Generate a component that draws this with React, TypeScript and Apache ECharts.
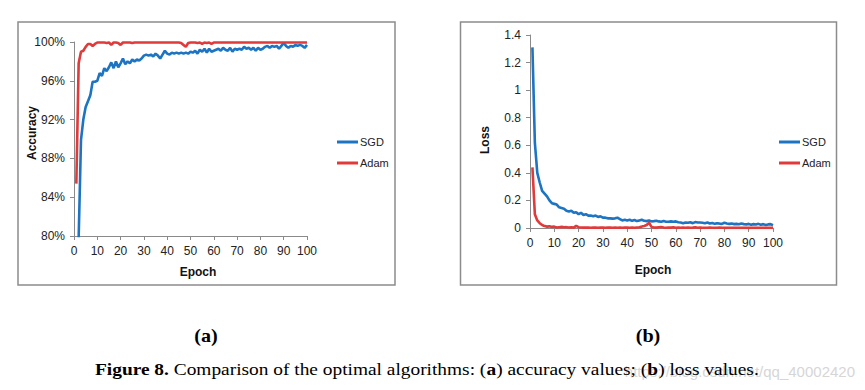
import React, { useEffect, useRef } from "react";
import * as echarts from "echarts";

const epochs: number[] = Array.from({ length: 100 }, (_, i) => i + 1);

const accXTicks = { min: 0, max: 100, interval: 10 };
const accYTicks = { min: 80, max: 100, interval: 4 };
const lossYTicks = { min: 0, max: 1.4, interval: 0.2 };

const sgdAccuracy: number[] = [
  62, 79.8, 89.9, 92.0, 93.3, 93.9, 94.5, 95.9, 95.9, 96.0,
  96.8, 96.5, 97.3, 97.0, 97.4, 97.9, 97.3, 98.0, 97.4, 97.8,
  98.3, 97.7, 98.0, 97.8, 98.2, 98.0, 98.2, 98.1, 98.3, 98.6,
  98.7, 98.6, 98.7, 98.5, 98.8, 98.6, 98.3, 98.7, 99.1, 98.8,
  98.7, 98.9, 98.8, 98.9, 98.8, 98.9, 98.8, 98.9, 98.8, 99.0,
  98.9, 99.1, 98.8, 99.2, 99.0, 99.3, 98.9, 99.3, 99.0, 99.1,
  99.2, 99.3, 99.1, 99.4, 99.2, 99.1, 99.4, 99.0, 99.3, 99.2,
  99.3, 99.2, 99.5, 99.3, 99.4, 99.2, 99.4, 99.1, 99.4, 99.2,
  99.3, 99.5, 99.6, 99.4, 99.6, 99.5, 99.6, 99.3, 99.6, 99.9,
  99.6, 99.4, 99.6, 99.5, 99.7, 99.6, 99.7, 99.6, 99.4, 99.7,
];

const adamAccuracy: number[] = [
  85.4, 97.8, 99.0, 99.1, 99.5, 99.8, 99.8, 99.6, 99.8, 99.95,
  99.95, 99.95, 99.95, 99.9, 99.95, 99.7, 99.95, 99.95, 99.9, 99.7,
  99.95, 99.95, 99.95, 99.95, 99.9, 99.95, 99.95, 99.95, 99.95, 99.95,
  99.95, 99.95, 99.95, 99.95, 99.95, 99.95, 99.95, 99.95, 99.95, 99.95,
  99.95, 99.95, 99.95, 99.95, 99.95, 99.9, 99.7, 99.5, 99.9, 99.95,
  99.95, 99.95, 99.9, 99.95, 99.8, 99.95, 99.9, 99.95, 99.8, 99.95,
  99.95, 99.95, 99.95, 99.95, 99.95, 99.95, 99.95, 99.95, 99.95, 99.95,
  99.95, 99.95, 99.95, 99.95, 99.95, 99.95, 99.95, 99.95, 99.95, 99.95,
  99.95, 99.95, 99.95, 99.95, 99.95, 99.95, 99.95, 99.95, 99.95, 99.95,
  99.95, 99.95, 99.95, 99.95, 99.95, 99.95, 99.95, 99.95, 99.95, 99.95,
];

const sgdLoss: number[] = [
  1.31, 0.62, 0.40, 0.33, 0.27, 0.25, 0.23, 0.20, 0.18, 0.175,
  0.17, 0.15, 0.145, 0.14, 0.125, 0.12, 0.125, 0.11, 0.115, 0.10,
  0.11, 0.095, 0.10, 0.09, 0.09, 0.085, 0.09, 0.08, 0.085, 0.075,
  0.075, 0.07, 0.07, 0.068, 0.07, 0.075, 0.065, 0.055, 0.06, 0.055,
  0.06, 0.052, 0.058, 0.05, 0.055, 0.06, 0.052, 0.05, 0.055, 0.048,
  0.05, 0.053, 0.048, 0.045, 0.05, 0.045, 0.045, 0.048, 0.045, 0.048,
  0.042, 0.04, 0.035, 0.04, 0.038, 0.042, 0.035, 0.043, 0.04, 0.04,
  0.038, 0.035, 0.04, 0.033, 0.036, 0.03, 0.035, 0.032, 0.03, 0.038,
  0.033, 0.03, 0.032, 0.028, 0.03, 0.027, 0.032, 0.028, 0.026, 0.03,
  0.024, 0.028, 0.025, 0.03, 0.024, 0.028, 0.022, 0.026, 0.028, 0.02,
];

const adamLoss: number[] = [
  0.44, 0.10, 0.055, 0.035, 0.022, 0.014, 0.010, 0.012, 0.008, 0.010,
  0.004, 0.006, 0.008, 0.005, 0.006, 0.004, 0.005, 0.003, 0.015, 0.006,
  0.004, 0.003, 0.004, 0.003, 0.002, 0.004, 0.003, 0.002, 0.003, 0.004,
  0.002, 0.003, 0.004, 0.002, 0.003, 0.002, 0.003, 0.002, 0.004, 0.003,
  0.002, 0.003, 0.002, 0.004, 0.006, 0.010, 0.015, 0.022, 0.038, 0.008,
  0.004, 0.003, 0.005, 0.007, 0.003, 0.002, 0.004, 0.003, 0.005, 0.002,
  0.003, 0.002, 0.003, 0.002, 0.003, 0.002, 0.003, 0.005, 0.002, 0.003,
  0.002, 0.001, 0.002, 0.003, 0.002, 0.001, 0.002, 0.003, 0.002, 0.001,
  0.002, 0.001, 0.002, 0.001, 0.002, 0.001, 0.002, 0.001, 0.002, 0.001,
  0.002, 0.001, 0.002, 0.001, 0.002, 0.001, 0.002, 0.001, 0.002, 0.001,
];

const seriesNames = ["SGD", "Adam"];
const captionText =
  "{b|Figure 8.} Comparison of the optimal algorithms: ({b|a}) accuracy values; ({b|b}) loss values.";
const watermarkText = "https://blog.csdn.net/qq_40002420";

const BLUE = "#1c74c2";
const RED = "#e03a3a";
const AXIS = "#8a8a8a";
const LABEL_FONT = "'Liberation Sans Narrow', 'Liberation Sans', Arial, sans-serif";
const SERIF = "'Liberation Serif', 'DejaVu Serif', serif";

function pairs(ys: number[]) {
  return epochs.map((e, i) => [e, ys[i]]);
}

export default function App() {
  const ref = useRef<HTMLDivElement>(null);
  useEffect(() => {
    if (!ref.current) return;
    const chart = echarts.init(ref.current, undefined, { renderer: "svg" });

    const axisCommon = {
      axisLine: { show: true, lineStyle: { color: AXIS, width: 1 } },
      axisTick: { show: true, length: 4, lineStyle: { color: AXIS } },
      splitLine: { show: false },
      axisLabel: { color: "#222", fontSize: 12, fontFamily: LABEL_FONT },
    };

    const lineCommon = {
      type: "line" as const,
      showSymbol: false,
      symbol: "none",
      clip: true,
    };

    const legendCommon = {
      orient: "vertical" as const,
      icon: "rect",
      itemWidth: 21,
      itemHeight: 3,
      itemGap: 7,
      padding: 0,
      data: seriesNames,
      textStyle: { fontSize: 11, lineHeight: 14, color: "#222", fontFamily: LABEL_FONT, padding: [0, 0, 0, -3] },
      selectedMode: false,
    };

    const titleText = (x: number, y: number, text: string, rotate = 0) => ({
      type: "text",
      x,
      y,
      rotation: rotate,
      style: {
        text,
        fill: "#111",
        font: `bold 12px ${LABEL_FONT}`,
        align: "center",
        verticalAlign: "middle",
      },
    });

    chart.setOption({
      animation: false,
      backgroundColor: "#fff",
      grid: [
        { left: 74, top: 42, width: 233, height: 194 },
        { left: 530, top: 35, width: 243, height: 193 },
      ],
      xAxis: [
        {
          type: "value",
          gridIndex: 0,
          ...accXTicks,
          ...axisCommon,
          axisLabel: { ...axisCommon.axisLabel, margin: 9 },
        },
        {
          type: "value",
          gridIndex: 1,
          ...accXTicks,
          ...axisCommon,
          axisLabel: { ...axisCommon.axisLabel, margin: 9 },
        },
      ],
      yAxis: [
        {
          type: "value",
          gridIndex: 0,
          ...accYTicks,
          ...axisCommon,
          axisLabel: { ...axisCommon.axisLabel, margin: 9, formatter: "{value}%" },
        },
        {
          type: "value",
          gridIndex: 1,
          ...lossYTicks,
          ...axisCommon,
          axisLabel: { ...axisCommon.axisLabel, margin: 9 },
        },
      ],
      legend: [
        { ...legendCommon, left: 337, top: 135 },
        { ...legendCommon, left: 779, top: 135 },
      ],
      series: [
        { ...lineCommon, name: "SGD", xAxisIndex: 0, yAxisIndex: 0, data: pairs(sgdAccuracy), color: BLUE, lineStyle: { width: 2.6, color: BLUE } },
        { ...lineCommon, name: "Adam", xAxisIndex: 0, yAxisIndex: 0, data: pairs(adamAccuracy), color: RED, lineStyle: { width: 2.6, color: RED } },
        { ...lineCommon, name: "SGD", xAxisIndex: 1, yAxisIndex: 1, data: pairs(sgdLoss), color: BLUE, lineStyle: { width: 2.6, color: BLUE } },
        { ...lineCommon, name: "Adam", xAxisIndex: 1, yAxisIndex: 1, data: pairs(adamLoss), color: RED, lineStyle: { width: 2.6, color: RED } },
      ],
      graphic: [
        {
          type: "rect",
          shape: { x: 18, y: 22, width: 377, height: 263 },
          style: { fill: "none", stroke: "#8c8c8c", lineWidth: 1.5 },
          silent: true,
        },
        {
          type: "rect",
          shape: { x: 460.5, y: 22, width: 376, height: 263 },
          style: { fill: "none", stroke: "#8c8c8c", lineWidth: 1.5 },
          silent: true,
        },
        titleText(32, 133, "Accuracy", Math.PI / 2),
        titleText(198, 272, "Epoch"),
        titleText(485, 140, "Loss", Math.PI / 2),
        titleText(653, 270, "Epoch"),
        {
          type: "text",
          x: 206,
          y: 336,
          scaleX: 1.12,
          style: { text: "(a)", font: `bold 18px ${SERIF}`, fill: "#000", align: "center", verticalAlign: "middle" },
        },
        {
          type: "text",
          x: 648,
          y: 336,
          scaleX: 1.12,
          style: { text: "(b)", font: `bold 18px ${SERIF}`, fill: "#000", align: "center", verticalAlign: "middle" },
        },
        {
          type: "text",
          x: 855,
          y: 371,
          style: { text: watermarkText, font: `15px ${LABEL_FONT}`, fill: "#d6d6d6", align: "right", verticalAlign: "middle" },
        },
        {
          type: "text",
          x: 95,
          y: 369,
          scaleX: 1.14,
          style: {
            text: captionText,
            font: `17px ${SERIF}`,
            fill: "#000",
            align: "left",
            verticalAlign: "middle",
            rich: {
              b: { font: `bold 17px ${SERIF}`, fill: "#000" },
            },
          },
        },
      ],
    });
    return () => chart.dispose();
  }, []);

  return (
    <div
      ref={ref}
      style={{ position: "fixed", left: 0, top: 0, width: 865, height: 390, background: "#fff" }}
    />
  );
}
